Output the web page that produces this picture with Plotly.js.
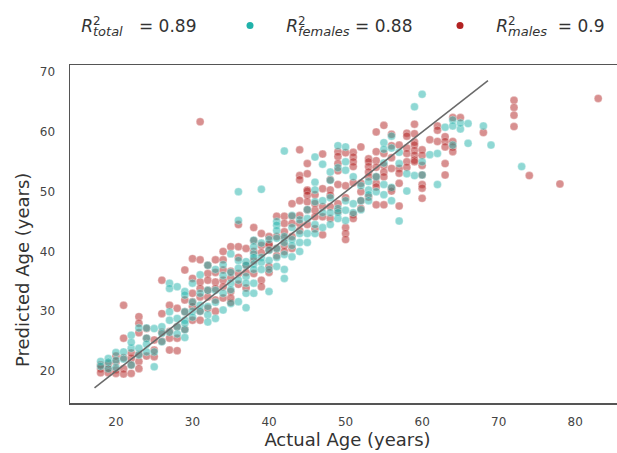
<!DOCTYPE html>
<html>
<head>
<meta charset="utf-8">
<script src="https://cdn.plot.ly/plotly-3.0.1.min.js"></script>
<style>
html,body{margin:0;padding:0;overflow:hidden;background:#fff;}
#chart{width:626px;height:453px;}
</style>
</head>
<body>
<div id="chart"></div>
<script>
// [actual age, predicted age] pairs
const femalePoints = [
[18,21.6],[18,20.8],[19,22.1],[19,20.4],[19,21.5],[20,23.1],[20,21.8],[20,20.6],[21,23.2],[21,22.0],
[22,26.0],[22,23.8],[22,24.8],[22,21.0],[23,23.8],[23,27.2],[23,22.7],[24,27.2],[24,25.5],[24,24.5],[24,23.2],
[25,27.1],[25,23.2],[25,20.7],[26,27.4],[26,26.3],[26,24.9],[27,34.7],[27,33.8],[27,29.9],[27,28.5],[27,26.5],
[28,34.1],[28,28.8],[28,27.4],[28,26.2],[29,33.3],[29,32.7],[29,29.9],[29,28.5],[29,28.0],[29,26.9],[29,25.6],
[30,34.7],[30,30.0],[30,29.0],[30,31.5],[31,36.1],[31,31.0],[31,30.0],[31,33.0],[32,37.7],[32,30.8],[32,29.4],[32,28.2],[32,33.5],
[33,37.0],[33,33.5],[33,28.8],[33,31.5],[34,36.0],[34,30.2],[34,33.0],[34,37.8],[35,39.6],[35,34.7],[35,33.6],[35,31.3],[35,36.5],
[36,50.0],[36,45.2],[36,37.2],[36,35.2],[36,31.6],[36,38.5],[37,38.3],[37,37.7],[37,35.8],[37,34.7],[37,30.6],[37,33.0],
[38,41.9],[38,40.8],[38,39.6],[38,39.0],[38,37.9],[38,37.0],[38,34.7],[38,33.0],[39,50.4],[39,41.4],[39,39.0],[39,38.2],[39,37.0],
[40,38.5],[40,37.0],[40,33.3],[40,40.2],[40,42.0],[41,45.0],[41,44.4],[41,43.5],[41,42.2],[41,40.5],[41,39.0],[41,37.5],
[42,56.8],[42,42.5],[42,41.5],[42,39.5],[42,37.0],[42,35.5],[43,39.1],[43,42.0],[43,44.0],[43,46.0],[43,41.0],
[44,45.3],[44,43.0],[44,41.5],[44,40.0],[45,47.0],[45,45.5],[45,43.0],[45,41.5],[46,55.8],[46,51.6],[46,50.3],[46,48.3],[46,44.5],[46,43.0],
[47,54.6],[47,48.5],[47,46.5],[47,44.0],[48,53.3],[48,51.9],[48,49.0],[48,46.5],[48,44.5],[49,57.7],[49,54.0],[49,47.2],[49,45.5],[49,46.5],
[50,57.5],[50,55.0],[50,53.6],[50,46.9],[50,45.2],[50,48.5],[51,52.5],[51,48.0],[51,46.5],[52,51.0],[52,48.5],[52,47.0],
[53,51.7],[53,50.3],[53,49.5],[53,48.5],[54,52.5],[54,50.0],[55,58.2],[55,57.1],[55,54.8],[55,51.2],[55,49.5],
[56,59.3],[56,57.3],[56,50.7],[56,48.5],[57,56.6],[57,54.7],[57,45.1],[58,53.0],[58,50.1],[59,64.2],[59,52.7],
[60,66.3],[60,55.0],[60,52.8],[61,56.2],[62,56.4],[62,51.2],[63,60.8],[64,62.0],[64,61.0],[64,57.8],[65,60.5],[65,61.5],
[66,61.4],[66,58.1],[68,61.0],[69,57.8],[73,54.2]
];
const malePoints = [
[18,20.4],[18,19.7],[18,21.0],[19,20.4],[19,19.7],[19,21.2],[20,20.2],[20,19.6],[20,21.5],[20,22.5],
[21,31.0],[21,25.5],[21,20.4],[21,19.5],[21,22.2],[22,22.1],[22,21.0],[22,19.6],[22,23.0],
[23,29.1],[23,28.0],[23,26.4],[23,21.6],[23,20.4],[23,22.8],[24,27.1],[24,25.5],[24,22.5],[25,25.2],[25,22.4],[25,23.5],
[26,35.2],[26,29.6],[26,26.5],[26,25.0],[27,26.6],[27,25.5],[27,23.5],[27,31.0],[28,30.5],[28,25.5],[28,23.4],[28,27.4],
[29,36.9],[29,31.9],[29,29.9],[29,27.0],[30,38.8],[30,31.6],[30,30.8],[30,28.5],[30,33.0],[30,35.5],
[31,61.7],[31,38.6],[31,34.9],[31,33.8],[31,32.4],[31,28.5],[31,30.0],[32,37.7],[32,36.3],[32,35.2],[32,33.5],[32,32.4],[32,30.5],
[33,38.6],[33,34.9],[33,33.8],[33,31.9],[33,36.5],[33,30.0],[34,38.6],[34,36.9],[34,35.2],[34,34.1],[34,32.2],[34,40.0],
[35,40.8],[35,36.7],[35,35.6],[35,33.3],[35,32.2],[35,31.5],[36,44.5],[36,40.8],[36,36.3],[36,34.5],[36,39.0],
[37,40.5],[37,37.7],[37,36.5],[37,33.9],[38,44.0],[38,40.0],[38,41.8],[38,36.3],[38,38.5],[39,41.0],[39,39.8],[39,35.2],[39,34.1],[39,43.0],
[40,42.5],[40,41.1],[40,41.2],[40,40.3],[40,37.5],[40,36.5],[41,45.9],[41,42.5],[41,40.5],[41,39.3],
[42,45.9],[42,44.7],[42,43.3],[42,42.2],[42,41.0],[42,40.0],[43,45.9],[43,44.7],[43,42.5],[43,40.5],[43,48.0],
[44,57.0],[44,52.7],[44,52.0],[44,46.0],[44,44.7],[44,43.5],[44,48.5],[45,54.7],[45,53.0],[45,50.3],[45,50.1],[45,49.4],[45,48.3],[45,47.0],[45,44.5],
[46,49.5],[46,46.9],[46,45.8],[46,48.0],[46,43.8],[47,56.3],[47,50.5],[47,45.8],[47,42.8],[47,47.5],[48,50.3],[48,49.4],[48,47.5],[48,45.5],[48,52.0],
[49,56.7],[49,55.9],[49,54.7],[49,53.5],[49,51.2],[49,48.0],[49,46.8],[50,56.5],[50,49.0],[50,51.0],[50,44.0],[50,43.0],[50,42.0],
[51,56.6],[51,55.8],[51,55.0],[51,54.2],[51,51.5],[51,46.2],[51,45.5],[52,57.5],[52,51.4],[52,50.0],[52,48.5],[52,47.2],
[53,55.5],[53,55.0],[53,54.2],[53,53.3],[53,52.5],[53,49.1],[54,60.0],[54,56.7],[54,55.2],[54,54.1],[54,52.5],[54,51.4],[54,50.8],[54,47.8],
[55,61.1],[55,56.4],[55,54.4],[55,53.3],[55,52.5],[55,47.8],[56,59.6],[56,57.7],[56,55.7],[56,53.9],[56,50.6],[56,50.1],
[57,57.8],[57,53.9],[57,53.1],[57,51.4],[57,47.6],[58,59.8],[58,59.3],[58,57.3],[58,56.4],[58,55.0],[58,54.1],
[59,61.3],[59,59.7],[59,58.3],[59,57.8],[59,56.9],[59,56.1],[59,55.3],[59,55.0],[60,57.0],[60,56.1],[60,54.4],[60,52.8],[60,51.2],[60,50.6],[60,48.9],
[61,58.7],[62,61.0],[62,60.3],[62,58.4],[63,59.2],[63,58.4],[63,57.5],[63,54.7],[63,52.8],[64,62.4],[64,58.4],[64,57.5],[64,56.7],[65,62.4],
[68,59.9],[72,65.3],[72,64.1],[72,62.8],[72,60.9],[74,52.7],[78,51.3],[83,65.6]
];
const fitX = [17.2, 68.6];
const fitY = [17.2, 68.6];
const nb = n => '\u00A0'.repeat(n);
const rsq = s => '<i>R</i><sup><span style="letter-spacing:-7.6px">2</span></sup><sub><span style="font-size:13px"><i>' + s + '</i></span></sub>';
const legendLabels = [
  nb(3) + rsq('total') + nb(3) + '= 0.89',
  nb(3) + rsq('females') + ' = 0.88',
  nb(3) + rsq('males') + nb(2) + '= 0.9'
];
const teal = '#20b2aa', red = '#b22222';

const traces = [
  {x: malePoints.map(p=>p[0]), y: malePoints.map(p=>p[1]), type:'scatter', mode:'markers', showlegend:false,
   marker:{size:8, color:'rgba(178,34,34,0.5)', line:{color:'rgba(255,255,255,0.6)', width:0.5}}, hoverinfo:'skip'},
  {x: femalePoints.map(p=>p[0]), y: femalePoints.map(p=>p[1]), type:'scatter', mode:'markers', showlegend:false,
   marker:{size:8, color:'rgba(32,178,170,0.5)', line:{color:'rgba(255,255,255,0.6)', width:0.5}}, hoverinfo:'skip'},
  {x: fitX, y: fitY, type:'scatter', mode:'lines', showlegend:false, line:{color:'#6a6a6a', width:1.6}},
  {x:[null], y:[null], type:'scatter', mode:'markers', name: legendLabels[0], legend:'legend', marker:{size:7, color:'rgba(0,0,0,0)'}},
  {x:[null], y:[null], type:'scatter', mode:'markers', name: legendLabels[1], legend:'legend2', marker:{size:7, color:teal}},
  {x:[null], y:[null], type:'scatter', mode:'markers', name: legendLabels[2], legend:'legend3', marker:{size:7, color:red}}
];

const legendBase = (px) => ({orientation:'h', xref:'container', yref:'container', x: px/626, y: 1 - 26/453,
  xanchor:'left', yanchor:'middle', font:{size:17, color:'#333'}, bgcolor:'rgba(0,0,0,0)'});

const layout = {
  width: 626, height: 453,
  margin: {l:70, r:1, t:65, b:50},
  paper_bgcolor:'#fff', plot_bgcolor:'#fff',
  font: {family:'DejaVu Sans, sans-serif', color:'#444'},
  showlegend: true,
  legend: legendBase(25),
  legend2: legendBase(230),
  legend3: legendBase(440),
  xaxis: {range:[14.0, 86.5], tickvals:[20,30,40,50,60,70,80], showgrid:false, zeroline:false,
          showline:true, mirror:true, linecolor:'#555', linewidth:1.5,
          ticks:'outside', ticklen:7, tickcolor:'rgba(0,0,0,0)', tickfont:{size:12, color:'#444'},
          title:{text:'Actual Age (years)', font:{size:18, color:'#333'}, standoff:4}},
  yaxis: {range:[14.65, 71.2], tickvals:[20,30,40,50,60,70], showgrid:false, zeroline:false,
          showline:true, mirror:true, linecolor:'#555', linewidth:1.5,
          ticks:'outside', ticklen:11, tickcolor:'rgba(0,0,0,0)', tickfont:{size:12, color:'#444'}},
  annotations: [
    {text:'Predicted Age (years)', xref:'paper', yref:'paper', x:0, xshift:-48, y:(403-270)/338,
     xanchor:'center', yanchor:'middle', textangle:-90, showarrow:false, font:{size:18, color:'#333'}}
  ]
};

Plotly.newPlot('chart', traces, layout, {staticPlot:true, displayModeBar:false});
</script>
</body>
</html>
